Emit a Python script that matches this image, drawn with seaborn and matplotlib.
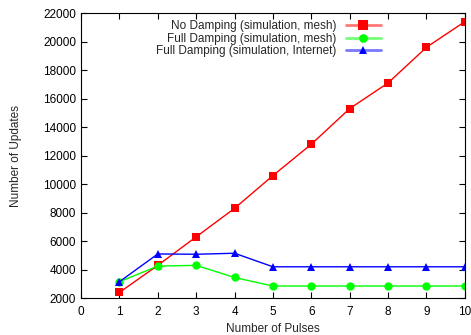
import matplotlib
matplotlib.use("Agg")
import matplotlib.pyplot as plt
import seaborn as sns
import pandas as pd

pulses = [1, 2, 3, 4, 5, 6, 7, 8, 9, 10]
no_damping_mesh = [2400, 4300, 6300, 8300, 10600, 12800, 15300, 17100, 19600, 21400]
full_damping_mesh = [3150, 4250, 4300, 3450, 2850, 2850, 2850, 2850, 2850, 2850]
full_damping_internet = [3150, 5100, 5080, 5150, 4200, 4200, 4200, 4200, 4200, 4200]

series_names = [
    "No Damping (simulation, mesh)",
    "Full Damping (simulation, mesh)",
    "Full Damping (simulation, Internet)",
]
series_values = [no_damping_mesh, full_damping_mesh, full_damping_internet]
colors = ["#ff0000", "#00ff00", "#0000ff"]
legend_line_colors = ["#ff7878", "#78ff78", "#7878ff"]
markers = ["s", "o", "^"]
marker_sizes = [6.4, 6.0, 5.5]

x_ticks = list(range(0, 11))
y_ticks = list(range(2000, 22001, 2000))

frame = pd.DataFrame({
    "pulses": pulses * len(series_names),
    "updates": [v for vals in series_values for v in vals],
    "series": [name for name, vals in zip(series_names, series_values) for _ in vals],
})

sns.set_style("ticks")
plt.rcParams["font.family"] = ["Liberation Sans", "DejaVu Sans"]
plt.rcParams["font.size"] = 8.5

fig = plt.figure(figsize=(4.71, 3.35), dpi=100)
ax = fig.add_axes([0.172, 0.110, 0.815, 0.851])

for name, color, marker, ms in zip(series_names, colors, markers, marker_sizes):
    sns.lineplot(
        data=frame[frame["series"] == name], x="pulses", y="updates",
        color=color, marker=marker, markersize=ms, markeredgewidth=0,
        linewidth=1.0, label=name, ax=ax,
    )

ax.set_xlim(0, 10)
ax.set_ylim(2000, 22000)
ax.set_xticks(x_ticks)
ax.set_yticks(y_ticks)
ax.set_xlabel("Number of Pulses", fontsize=8.5, labelpad=3)
ax.set_ylabel("Number of Updates", fontsize=8.5, labelpad=15)
ax.tick_params(direction="in", top=True, right=True, length=4, width=0.8,
               labelsize=8.5, colors="black")
ax.tick_params(axis="x", pad=6)
for spine in ax.spines.values():
    spine.set_visible(True)
    spine.set_linewidth(0.8)
    spine.set_color("black")

leg = ax.legend(loc="upper right", bbox_to_anchor=(0.80, 1.0), frameon=False,
                markerfirst=False, handlelength=3.0, labelspacing=0.05,
                borderaxespad=0.2, fontsize=8.5, handletextpad=0.8)
for text in leg.get_texts():
    text.set_ha("right")
leg._legend_box.align = "right"
for handle, line_color, color in zip(leg.legend_handles, legend_line_colors, colors):
    handle.set_color(line_color)
    handle.set_linewidth(2.0)
    handle.set_markerfacecolor(color)
    handle.set_markeredgecolor(color)
    handle.set_markersize(handle.get_markersize() * 1.05)

fig.savefig("out.png", dpi=100)
